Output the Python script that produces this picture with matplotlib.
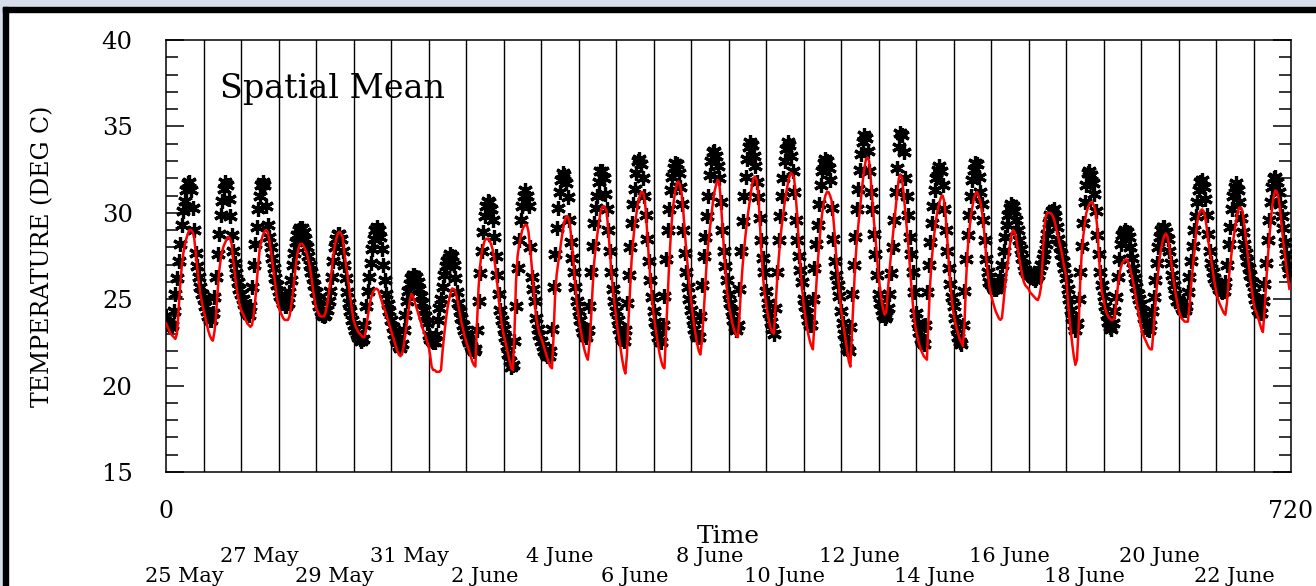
import numpy as np
import matplotlib
matplotlib.use('Agg')
import matplotlib.pyplot as plt
from matplotlib.patches import Rectangle
from matplotlib.ticker import MultipleLocator

# hourly spatial-mean temperature, one row of 24 values per day (25 May .. 23 June)
obs_temp = [
    24.0, 23.7, 23.5, 23.4, 23.5, 24.3, 25.3, 26.2, 27.2, 28.2, 29.3, 30.1, 30.7, 31.3, 31.7, 31.8, 31.3, 30.3, 29.0, 27.7, 26.9, 26.3, 25.7, 25.3,
    25.0, 24.6, 24.3, 24.0, 23.8, 23.8, 24.2, 25.1, 26.3, 27.6, 28.8, 29.9, 30.7, 31.4, 31.8, 31.6, 30.8, 29.8, 28.7, 27.8, 27.1, 26.5, 26.0, 25.6,
    25.3, 25.0, 24.7, 24.4, 24.2, 24.1, 24.6, 25.7, 27.0, 28.2, 29.2, 30.2, 31.0, 31.6, 31.8, 31.6, 30.4, 29.3, 28.6, 28.0, 27.4, 26.8, 26.2, 25.8,
    25.5, 25.2, 25.0, 24.8, 24.6, 24.6, 24.8, 25.4, 26.1, 27.0, 27.7, 28.3, 28.7, 29.0, 29.1, 29.1, 28.9, 28.5, 28.0, 27.5, 27.0, 26.6, 26.2, 25.8,
    25.4, 25.0, 24.6, 24.3, 24.1, 24.0, 24.1, 24.4, 24.9, 25.5, 26.3, 27.2, 28.0, 28.5, 28.8, 28.8, 28.5, 27.8, 27.0, 26.2, 25.4, 24.8, 24.3, 23.8,
    23.5, 23.2, 23.0, 22.8, 22.7, 22.6, 22.7, 23.5, 24.6, 25.5, 26.3, 27.1, 27.9, 28.5, 29.0, 29.2, 29.0, 28.6, 27.9, 27.0, 26.1, 25.3, 24.7, 24.3,
    23.8, 23.4, 23.0, 22.7, 22.5, 22.3, 22.2, 22.4, 23.2, 24.1, 24.9, 25.5, 25.9, 26.2, 26.4, 26.4, 26.3, 26.0, 25.6, 25.2, 24.8, 24.4, 24.0, 23.6,
    22.9, 22.7, 22.6, 22.5, 22.5, 22.9, 23.8, 24.5, 25.0, 25.7, 26.4, 26.9, 27.2, 27.4, 27.6, 27.5, 27.0, 26.2, 25.4, 24.8, 24.3, 23.9, 23.5, 23.2,
    23.0, 22.7, 22.5, 22.3, 22.1, 22.0, 22.1, 23.2, 24.9, 26.5, 27.8, 28.9, 29.8, 30.4, 30.7, 30.6, 30.2, 29.6, 28.6, 27.5, 26.4, 25.3, 24.4, 23.8,
    23.3, 22.8, 22.3, 21.8, 21.4, 21.1, 21.2, 22.6, 24.6, 26.8, 28.4, 29.6, 30.4, 31.0, 31.3, 31.0, 30.4, 28.0, 26.3, 25.6, 24.9, 23.9, 23.3, 22.9,
    22.6, 22.3, 22.0, 21.8, 21.7, 21.7, 22.0, 23.3, 25.7, 27.6, 29.1, 30.3, 31.2, 31.9, 32.3, 32.2, 31.7, 30.9, 29.6, 28.3, 27.4, 26.6, 25.7, 24.9,
    24.3, 23.8, 23.4, 23.1, 22.9, 22.8, 23.2, 24.6, 26.6, 28.1, 29.4, 30.3, 31.0, 31.8, 32.4, 32.4, 32.0, 31.1, 30.2, 29.0, 27.8, 26.6, 25.6, 24.9,
    24.3, 23.8, 23.3, 22.9, 22.7, 22.6, 23.2, 24.8, 26.4, 28.0, 29.4, 30.5, 31.4, 32.3, 33.0, 33.1, 32.8, 32.0, 31.0, 29.9, 28.5, 27.2, 26.1, 25.1,
    24.3, 23.7, 23.2, 22.8, 22.6, 22.5, 23.5, 25.2, 27.3, 29.0, 30.2, 31.3, 32.1, 32.6, 32.9, 32.8, 32.3, 31.5, 30.5, 29.0, 27.7, 26.6, 25.7, 25.0,
    24.4, 23.8, 23.3, 23.0, 22.8, 22.8, 24.0, 25.8, 27.5, 28.6, 29.8, 31.0, 32.2, 33.0, 33.5, 33.6, 33.3, 32.7, 32.0, 30.6, 29.0, 27.8, 26.9, 26.1,
    25.3, 24.8, 24.3, 23.8, 23.4, 23.2, 23.5, 25.6, 27.8, 29.5, 31.0, 32.1, 33.1, 33.8, 34.1, 33.9, 33.3, 32.7, 31.8, 30.9, 29.7, 28.4, 27.4, 26.6,
    25.5, 24.8, 24.2, 23.7, 23.3, 23.0, 24.5, 26.6, 28.4, 29.8, 31.0, 32.0, 33.0, 33.7, 34.1, 33.9, 33.3, 32.4, 31.2, 29.6, 28.4, 27.5, 26.7, 26.0,
    25.0, 24.6, 24.2, 23.8, 23.5, 23.5, 25.0, 26.8, 28.2, 29.3, 30.5, 31.6, 32.4, 32.9, 33.1, 33.0, 32.6, 31.9, 30.3, 28.5, 27.2, 26.4, 25.8, 25.2,
    24.3, 23.6, 23.0, 22.5, 22.1, 22.0, 23.4, 25.3, 27.0, 28.6, 30.2, 31.4, 32.5, 33.4, 34.1, 34.5, 34.3, 33.6, 32.4, 31.2, 30.2, 28.8, 27.6, 26.4,
    25.3, 24.8, 24.4, 24.1, 23.9, 24.0, 24.5, 25.3, 26.5, 28.0, 29.6, 31.2, 32.6, 33.8, 34.6, 34.5, 33.5, 32.0, 31.0, 29.9, 28.6, 27.6, 26.6, 25.4,
    24.2, 23.6, 23.1, 22.7, 22.5, 22.4, 23.5, 25.4, 27.0, 28.3, 29.4, 30.4, 31.3, 32.0, 32.5, 32.7, 32.4, 31.6, 30.2, 29.0, 27.8, 26.8, 25.9, 25.1,
    24.6, 23.9, 23.3, 22.8, 22.5, 22.4, 23.5, 25.5, 27.3, 28.7, 29.9, 31.0, 31.9, 32.5, 32.9, 32.8, 32.1, 31.2, 30.5, 29.6, 28.4, 27.3, 26.6, 26.0,
    25.9, 25.7, 25.6, 25.6, 25.7, 25.9, 26.3, 27.0, 27.8, 28.6, 29.3, 29.9, 30.3, 30.5, 30.4, 30.1, 29.6, 29.0, 28.4, 27.9, 27.4, 27.0, 26.7, 26.5,
    26.5, 26.4, 26.3, 26.2, 26.1, 26.2, 26.4, 26.7, 27.0, 27.3, 27.6, 28.2, 28.8, 29.4, 29.9, 30.1, 30.2, 29.8, 29.2, 28.5, 28.0, 27.6, 27.2, 26.8,
    26.2, 25.6, 25.0, 24.4, 23.9, 23.5, 23.2, 23.6, 25.0, 26.6, 28.1, 29.4, 30.6, 31.6, 32.3, 32.4, 32.2, 31.7, 31.1, 30.1, 28.7, 27.6, 26.6, 25.8,
    25.2, 24.6, 24.1, 23.7, 23.4, 23.3, 23.6, 24.3, 25.1, 26.3, 27.3, 28.2, 28.7, 28.9, 29.0, 28.9, 28.6, 28.0, 27.4, 26.8, 26.2, 25.7, 25.3, 25.0,
    24.7, 24.3, 23.9, 23.6, 23.3, 23.2, 23.5, 24.3, 25.1, 26.1, 27.1, 28.0, 28.6, 29.0, 29.2, 29.2, 28.9, 28.5, 27.8, 27.1, 26.4, 25.8, 25.3, 24.9,
    24.9, 24.7, 24.5, 24.4, 24.4, 24.6, 25.4, 26.3, 27.2, 28.1, 29.0, 29.8, 30.6, 31.3, 31.8, 31.9, 31.5, 30.8, 29.9, 28.8, 27.8, 27.1, 26.6, 26.2,
    26.0, 25.8, 25.6, 25.5, 25.4, 25.5, 26.0, 27.0, 28.2, 29.2, 30.2, 31.0, 31.5, 31.7, 31.3, 30.6, 29.7, 28.9, 28.2, 27.7, 27.2, 26.8, 26.4, 26.0,
    25.4, 25.0, 24.7, 24.4, 24.2, 24.2, 24.9, 25.9, 27.1, 28.4, 29.6, 30.6, 31.5, 32.0, 32.1, 31.8, 31.2, 30.5, 29.8, 29.1, 28.3, 27.6, 27.0, 26.5,
]

model_temp = [
    23.6, 23.4, 23.2, 23.0, 22.9, 22.8, 22.7, 23.0, 24.3, 25.7, 26.8, 27.6, 28.1, 28.5, 28.8, 29.0, 29.0, 28.9, 28.6, 27.7, 26.8, 26.0, 25.3, 24.8,
    24.4, 24.0, 23.6, 23.2, 22.9, 22.7, 22.6, 23.1, 24.0, 25.4, 26.6, 27.3, 27.8, 28.1, 28.3, 28.5, 28.6, 28.5, 28.2, 27.3, 26.5, 25.8, 25.2, 24.7,
    24.4, 24.2, 24.0, 23.8, 23.6, 23.5, 23.4, 23.5, 24.0, 24.8, 25.9, 27.0, 27.9, 28.4, 28.7, 28.9, 29.0, 28.9, 28.5, 27.9, 27.2, 26.5, 25.8, 25.1,
    24.6, 24.3, 24.1, 23.9, 23.8, 23.8, 23.8, 24.0, 24.5, 25.2, 26.0, 26.9, 27.6, 28.0, 28.2, 28.2, 28.1, 27.9, 27.7, 27.3, 26.9, 26.3, 25.6, 25.0,
    24.5, 24.3, 24.1, 24.0, 24.0, 24.0, 24.2, 24.6, 25.2, 25.9, 26.6, 27.5, 28.1, 28.5, 28.8, 28.9, 28.8, 28.6, 27.8, 27.1, 26.5, 25.8, 25.1, 24.4,
    23.8, 23.5, 23.3, 23.1, 23.0, 22.9, 22.8, 22.8, 23.2, 23.9, 24.5, 25.0, 25.3, 25.5, 25.6, 25.6, 25.5, 25.2, 24.9, 24.6, 24.4, 24.1, 23.8, 23.5,
    23.2, 22.9, 22.6, 22.3, 22.0, 21.8, 21.7, 21.8, 22.2, 22.9, 23.5, 24.2, 24.9, 25.3, 25.2, 24.9, 24.6, 24.3, 24.0, 23.7, 23.4, 23.1, 22.9, 22.6,
    22.3, 21.8, 21.1, 20.9, 20.9, 20.8, 20.8, 20.8, 20.9, 22.0, 22.9, 23.7, 24.4, 24.9, 25.3, 25.6, 25.6, 25.5, 25.2, 24.7, 24.2, 23.7, 23.3, 22.9,
    22.6, 22.3, 22.0, 21.7, 21.4, 21.2, 21.1, 23.5, 25.6, 26.9, 27.7, 28.1, 28.4, 28.5, 28.5, 28.4, 28.2, 27.9, 27.4, 26.7, 25.9, 25.0, 24.2, 23.5,
    23.0, 22.6, 22.2, 21.8, 21.4, 21.0, 20.9, 23.0, 26.0, 27.5, 28.1, 28.6, 29.0, 29.2, 29.3, 29.3, 28.9, 28.0, 27.0, 25.9, 24.8, 23.9, 23.4, 23.0,
    22.8, 22.5, 22.2, 21.9, 21.6, 21.3, 21.1, 21.0, 22.8, 25.2, 26.4, 27.1, 27.7, 28.4, 29.0, 29.5, 29.8, 29.8, 29.6, 28.9, 28.0, 26.9, 25.8, 24.7,
    24.0, 23.4, 22.9, 22.4, 22.0, 21.7, 21.5, 22.4, 23.8, 25.6, 27.1, 28.0, 28.7, 29.4, 30.0, 30.3, 30.4, 30.3, 30.1, 29.1, 27.9, 26.6, 25.6, 24.8,
    24.0, 23.3, 22.7, 22.1, 21.5, 21.0, 20.7, 21.8, 23.8, 25.6, 27.3, 28.4, 29.3, 29.9, 30.5, 30.9, 31.2, 31.2, 31.0, 30.2, 28.8, 27.4, 26.2, 25.1,
    24.2, 23.5, 22.9, 22.3, 21.8, 21.4, 21.1, 21.0, 23.0, 25.1, 27.0, 28.6, 29.9, 30.7, 31.3, 31.7, 31.8, 31.6, 31.1, 30.2, 28.9, 27.8, 26.8, 25.8,
    25.0, 24.2, 23.5, 22.9, 22.4, 22.0, 21.8, 22.6, 24.0, 25.6, 27.1, 28.2, 29.0, 29.8, 30.6, 31.2, 31.6, 31.9, 31.8, 30.8, 29.4, 28.0, 26.7, 25.5,
    24.8, 24.3, 23.8, 23.4, 23.1, 22.9, 22.8, 24.0, 25.6, 26.9, 27.9, 28.8, 29.6, 30.3, 30.9, 31.6, 32.0, 32.1, 31.9, 31.2, 29.6, 27.8, 26.4, 25.4,
    24.8, 24.2, 23.7, 23.3, 23.1, 23.0, 24.4, 25.9, 27.2, 28.3, 29.2, 29.9, 30.6, 31.2, 31.7, 32.1, 32.3, 32.2, 32.0, 31.0, 29.8, 28.2, 26.9, 25.7,
    24.8, 24.1, 23.5, 23.0, 22.6, 22.3, 22.1, 23.6, 25.5, 27.0, 28.1, 29.2, 30.0, 30.6, 31.0, 31.2, 31.2, 31.0, 30.7, 29.8, 28.7, 27.4, 26.4, 25.4,
    24.4, 23.8, 23.2, 22.6, 22.0, 21.4, 21.1, 23.0, 25.0, 26.9, 28.2, 29.2, 30.1, 31.0, 31.9, 32.6, 33.1, 33.2, 33.0, 32.0, 30.8, 29.6, 28.6, 27.5,
    26.3, 25.6, 24.9, 24.4, 24.1, 24.3, 25.5, 26.6, 27.6, 28.5, 29.4, 30.3, 31.2, 32.0, 32.2, 32.0, 31.2, 30.2, 29.2, 28.2, 27.0, 25.8, 24.7, 23.8,
    23.2, 22.8, 22.4, 22.1, 21.9, 21.7, 21.6, 21.5, 23.8, 25.8, 27.2, 28.2, 29.0, 29.7, 30.2, 30.6, 30.9, 31.0, 30.7, 29.8, 28.5, 27.1, 25.9, 24.9,
    24.2, 23.7, 23.3, 23.0, 22.7, 22.5, 22.3, 23.5, 26.0, 27.8, 28.9, 29.7, 30.3, 30.8, 31.1, 31.2, 31.0, 30.7, 30.2, 29.6, 28.5, 27.4, 26.4, 25.7,
    25.3, 24.9, 24.6, 24.3, 24.1, 23.9, 23.8, 23.9, 24.8, 25.8, 26.6, 27.3, 28.1, 28.7, 29.0, 28.9, 28.6, 28.0, 27.4, 26.9, 26.4, 26.0, 25.8, 25.7,
    25.6, 25.4, 25.3, 25.2, 25.1, 25.0, 24.95, 25.2, 25.7, 27.2, 29.0, 29.8, 30.0, 30.0, 30.0, 29.9, 29.7, 29.4, 29.0, 28.6, 28.2, 27.8, 27.3, 26.8,
    26.4, 25.2, 24.1, 23.2, 22.4, 21.7, 21.2, 21.5, 23.2, 25.8, 27.6, 28.6, 29.4, 30.0, 30.3, 30.5, 30.6, 30.6, 30.4, 30.0, 29.2, 27.6, 26.3, 25.4,
    25.0, 24.5, 24.2, 24.0, 23.9, 23.8, 23.8, 23.9, 24.7, 25.6, 26.3, 26.8, 27.1, 27.2, 27.3, 27.3, 27.1, 26.8, 26.4, 26.0, 25.5, 24.9, 24.4, 23.9,
    23.4, 23.0, 22.8, 22.6, 22.4, 22.2, 22.1, 22.1, 23.2, 24.4, 25.6, 26.6, 27.4, 28.0, 28.4, 28.7, 28.8, 28.6, 28.1, 27.4, 26.7, 26.0, 25.4, 24.9,
    24.4, 24.1, 23.9, 23.8, 23.7, 23.7, 23.7, 24.6, 25.7, 26.7, 27.6, 28.6, 29.5, 29.9, 30.1, 30.2, 30.1, 29.8, 29.2, 28.4, 27.8, 27.2, 26.6, 26.0,
    25.5, 25.1, 24.8, 24.6, 24.4, 24.2, 24.1, 24.8, 26.0, 26.9, 27.7, 28.4, 29.0, 29.6, 30.1, 30.3, 30.3, 30.1, 29.4, 28.6, 27.8, 27.0, 26.2, 25.5,
    24.8, 24.4, 24.2, 23.9, 23.6, 23.3, 23.1, 24.2, 25.8, 27.2, 28.4, 29.5, 30.4, 31.0, 31.3, 31.2, 30.9, 30.2, 29.3, 28.4, 27.6, 26.9, 26.2, 25.6,
]

date_labels = ['25 May', '27 May', '29 May', '31 May', '2 June', '4 June', '6 June', '8 June',
               '10 June', '12 June', '14 June', '16 June', '18 June', '20 June', '22 June']
date_days = [0, 2, 4, 6, 8, 10, 12, 14, 16, 18, 20, 22, 24, 26, 28]
n_days = 30

hours = np.arange(len(obs_temp))

plt.rcParams['font.family'] = ['DejaVu Serif']

fig = plt.figure(figsize=(13.16, 5.86), dpi=100)
W, H = 1316, 586

# window frame around the plot
fig.patches.append(Rectangle((0, 0), 1, 1, transform=fig.transFigure, color='#d6dee9', zorder=-3))
fig.patches.append(Rectangle((8 / W, 0), 1, 1 - 12 / H, transform=fig.transFigure, color='white', zorder=-2))
fig.patches.append(Rectangle((3 / W, 0), 5 / W, 1 - 7 / H, transform=fig.transFigure, color='black', zorder=-1))
fig.patches.append(Rectangle((3 / W, 1 - 12 / H), 1, 5 / H, transform=fig.transFigure, color='black', zorder=-1))

ax = fig.add_axes([166 / W, 1 - 472 / H, 1125 / W, 432 / H])
ax.set_zorder(5)
ax.set_facecolor('none')

# day separators
for d in range(1, n_days):
    ax.axvline(d * 24, color='black', lw=1.0, zorder=1)

ax.plot(hours, obs_temp, linestyle='none', marker=(6, 2, 0), markersize=10.5,
        markeredgewidth=2.3, color='black', zorder=2)
ax.plot(hours, model_temp, color='red', lw=1.8, zorder=3)

ax.set_xlim(0, 720)
ax.set_ylim(15, 40)
ax.set_xticks([0, 720])
ax.set_xticklabels(['0', '720'], fontsize=17)
ax.tick_params(axis='x', length=0, pad=20)
ax.yaxis.set_major_locator(MultipleLocator(5))
ax.yaxis.set_minor_locator(MultipleLocator(1))
ax.tick_params(axis='y', which='both', direction='in', right=True, width=1.1)
ax.tick_params(axis='y', which='major', length=13, pad=24, labelsize=17.5)
ax.tick_params(axis='y', which='minor', length=8.5)
for s in ax.spines.values():
    s.set_linewidth(1.1)

ax.set_ylabel('TEMPERATURE (DEG C)', fontsize=17, labelpad=34)

ax.text(0.048, 0.866, 'Spatial Mean', transform=ax.transAxes, fontsize=24, va='baseline')

trans = ax.get_xaxis_transform()
ax.text(0.5, -0.164, 'Time', transform=ax.transAxes, ha='center', va='baseline', fontsize=18)
for i, (lab, d) in enumerate(zip(date_labels, date_days)):
    y = -0.255 if i % 2 == 0 else -0.208
    ax.text(d * 24 + 12, y, lab, transform=trans, ha='center', va='baseline', fontsize=15)

fig.savefig('out.png', dpi=100)
